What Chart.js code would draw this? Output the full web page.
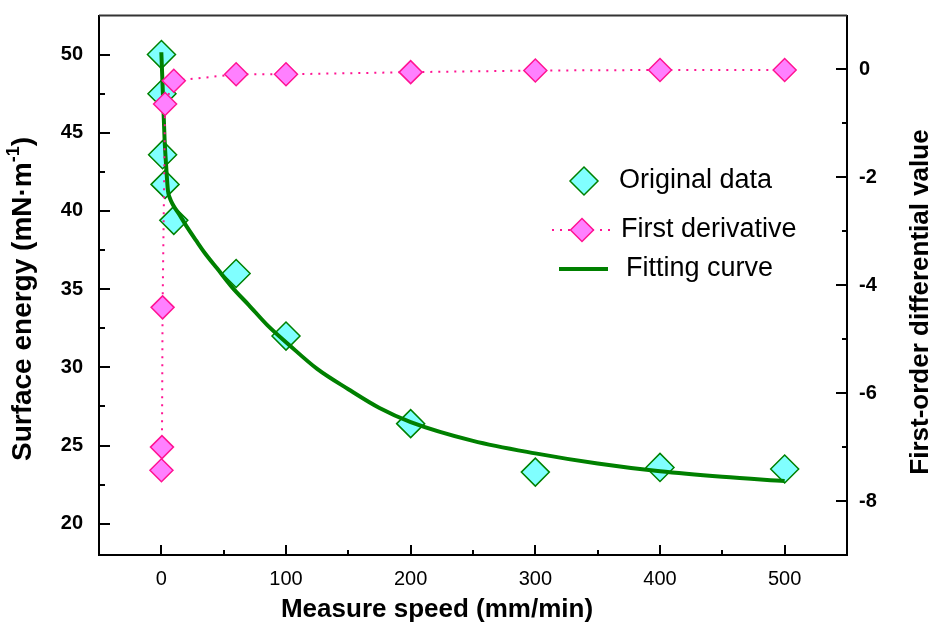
<!DOCTYPE html>
<html>
<head>
<meta charset="utf-8">
<script src="https://cdn.jsdelivr.net/npm/chart.js@4.4.0/dist/chart.umd.min.js"></script>
<style>
html,body{margin:0;padding:0;background:#fff;}
canvas{display:block;}
</style>
</head>
<body>
<canvas id="c" width="936" height="628"></canvas>
<script>
// ---- data ----
const speeds = [0.1, 0.5, 1, 3, 10, 60, 100, 200, 300, 400, 500];
const surfaceEnergy = [50.0, 47.5, 43.6, 41.7, 39.4, 36.0, 32.0, 26.4, 23.3, 23.6, 23.5];
const firstDerivative = [-7.43, -7.0, -4.41, -0.64, -0.21, -0.09, -0.09, -0.05, -0.02, -0.01, -0.01];
const fitSpeeds = [0, 1.3, 2.6, 4, 5.3, 6.7, 9.3, 15, 20, 28, 35, 45, 57, 70, 85, 103, 125, 150, 175, 200, 250, 300, 350, 400, 450, 500];
const fitEnergy = [50.15, 47.4, 44.6, 42.7, 41.3, 40.85, 40.4, 39.7, 39.05, 38.1, 37.3, 36.3, 35.1, 34.0, 32.7, 31.4, 29.9, 28.6, 27.4, 26.5, 25.3, 24.5, 23.85, 23.35, 23.0, 22.73];

const xTicks = [0, 100, 200, 300, 400, 500];
const xMinorTicks = [50, 150, 250, 350, 450];
const yTicks = [20, 25, 30, 35, 40, 45, 50];
const yMinorTicks = [22.5, 27.5, 32.5, 37.5, 42.5, 47.5];
const y2Ticks = [0, -2, -4, -6, -8];
const y2MinorTicks = [-1, -3, -5, -7];

const seriesNames = ['Original data', 'First derivative', 'Fitting curve'];
const xTitle = 'Measure speed (mm/min)';
const yTitleMain = 'Surface energy (mN\u00B7m';
const yTitleSup = '-1';
const yTitleEnd = ')';
const y2Title = 'First-order differential value';

const GREEN = '#008000';
const CYAN = '#80ffff';
const PINK_FILL = '#ff80ff';
const PINK = '#ff1493';
const FONT = '"Liberation Sans", Arial, Helvetica, sans-serif';

function pts(xs, ys) { return xs.map((x, i) => ({x: x, y: ys[i]})); }

function diamond(ctx, x, y, r, fill, stroke, lw) {
  ctx.beginPath();
  ctx.moveTo(x, y - r); ctx.lineTo(x + r, y); ctx.lineTo(x, y + r); ctx.lineTo(x - r, y); ctx.closePath();
  ctx.fillStyle = fill; ctx.fill();
  ctx.lineWidth = lw; ctx.strokeStyle = stroke; ctx.stroke();
}

const decorPlugin = {
  id: 'decor',
  afterDraw(chart) {
    const ctx = chart.ctx;
    const a = chart.chartArea;
    const sx = chart.scales.x, sy = chart.scales.y, sy2 = chart.scales.y2;
    ctx.save();
    // top frame line
    ctx.strokeStyle = '#333'; ctx.lineWidth = 2;
    ctx.beginPath(); ctx.moveTo(a.left, a.top); ctx.lineTo(a.right, a.top); ctx.stroke();
    // inward ticks
    ctx.strokeStyle = '#000'; ctx.lineWidth = 2;
    ctx.beginPath();
    xTicks.forEach(v => { const p = Math.round(sx.getPixelForValue(v)); ctx.moveTo(p, a.bottom); ctx.lineTo(p, a.bottom - 10); });
    xMinorTicks.forEach(v => { const p = Math.round(sx.getPixelForValue(v)); ctx.moveTo(p, a.bottom); ctx.lineTo(p, a.bottom - 5); });
    yTicks.forEach(v => { const p = Math.round(sy.getPixelForValue(v)); ctx.moveTo(a.left, p); ctx.lineTo(a.left + 11, p); });
    yMinorTicks.forEach(v => { const p = Math.round(sy.getPixelForValue(v)); ctx.moveTo(a.left, p); ctx.lineTo(a.left + 6, p); });
    y2Ticks.forEach(v => { const p = Math.round(sy2.getPixelForValue(v)); ctx.moveTo(a.right, p); ctx.lineTo(a.right - 11, p); });
    y2MinorTicks.forEach(v => { const p = Math.round(sy2.getPixelForValue(v)); ctx.moveTo(a.right, p); ctx.lineTo(a.right - 5, p); });
    ctx.stroke();

    // axis titles
    ctx.fillStyle = '#000';
    ctx.font = 'bold 26px ' + FONT;
    ctx.textAlign = 'center'; ctx.textBaseline = 'middle';
    ctx.fillText(xTitle, 437, 610);

    ctx.save();
    ctx.translate(921, 302); ctx.rotate(-Math.PI / 2);
    ctx.fillText(y2Title, 0, 0);
    ctx.restore();

    ctx.save();
    ctx.translate(23, 299); ctx.rotate(-Math.PI / 2);
    ctx.textAlign = 'left';
    const big = 'bold 28px ' + FONT, small = 'bold 18px ' + FONT;
    ctx.font = big;
    const w1 = ctx.measureText(yTitleMain).width;
    const w3 = ctx.measureText(yTitleEnd).width;
    ctx.font = small;
    const w2 = ctx.measureText(yTitleSup).width;
    const start = -(w1 + w2 + w3) / 2;
    ctx.font = big;
    ctx.fillText(yTitleMain, start, 0);
    ctx.font = small;
    ctx.fillText(yTitleSup, start + w1, -9);
    ctx.font = big;
    ctx.fillText(yTitleEnd, start + w1 + w2, 0);
    ctx.restore();

    // legend
    ctx.font = '27px ' + FONT;
    ctx.textAlign = 'left'; ctx.textBaseline = 'middle';
    diamond(ctx, 584, 181, 14, CYAN, GREEN, 1.5);
    ctx.fillStyle = '#000';
    ctx.fillText(seriesNames[0], 619, 181);

    ctx.save();
    ctx.strokeStyle = PINK; ctx.lineWidth = 2; ctx.setLineDash([2, 6]);
    ctx.beginPath(); ctx.moveTo(552, 230); ctx.lineTo(612, 230); ctx.stroke();
    ctx.restore();
    diamond(ctx, 582, 230, 11.5, PINK_FILL, PINK, 1.5);
    ctx.fillStyle = '#000';
    ctx.fillText(seriesNames[1], 621, 230);

    ctx.strokeStyle = GREEN; ctx.lineWidth = 4; ctx.setLineDash([]);
    ctx.beginPath(); ctx.moveTo(559, 269); ctx.lineTo(608, 269); ctx.stroke();
    ctx.fillStyle = '#000';
    ctx.fillText(seriesNames[2], 626, 269);
    ctx.restore();
  }
};

new Chart(document.getElementById('c'), {
  type: 'scatter',
  data: {
    datasets: [
      {
        label: seriesNames[1],
        data: pts(speeds, firstDerivative),
        yAxisID: 'y2',
        showLine: true,
        borderColor: PINK,
        borderWidth: 2,
        borderDash: [2, 6],
        pointStyle: 'rectRot',
        pointRadius: 11.5,
        pointBackgroundColor: PINK_FILL,
        pointBorderColor: PINK,
        pointBorderWidth: 1.5,
        order: 0
      },
      {
        label: seriesNames[2],
        data: pts(fitSpeeds, fitEnergy),
        yAxisID: 'y',
        showLine: true,
        borderColor: GREEN,
        borderWidth: 4,
        pointRadius: 0,
        cubicInterpolationMode: 'monotone',
        order: 1
      },
      {
        label: seriesNames[0],
        data: pts(speeds, surfaceEnergy),
        yAxisID: 'y',
        showLine: false,
        pointStyle: 'rectRot',
        pointRadius: 14,
        pointBackgroundColor: CYAN,
        pointBorderColor: GREEN,
        pointBorderWidth: 1.5,
        order: 2
      }
    ]
  },
  options: {
    responsive: false,
    animation: false,
    devicePixelRatio: 1,
    layout: { padding: { top: 14, left: 0, right: 0, bottom: 0 } },
    plugins: { legend: { display: false }, tooltip: { enabled: false } },
    scales: {
      x: {
        type: 'linear', min: -50, max: 550,
        afterBuildTicks: s => { s.ticks = xTicks.map(v => ({value: v})); },
        afterFit: s => { s.height = 73; s.paddingLeft = 0; s.paddingRight = 0; },
        grid: { display: false, drawTicks: false },
        border: { display: true, color: '#000', width: 2 },
        ticks: { color: '#000', font: { family: FONT, size: 20 }, padding: 12, maxRotation: 0 }
      },
      y: {
        type: 'linear', position: 'left', min: 18, max: 52.5,
        afterBuildTicks: s => { s.ticks = yTicks.map(v => ({value: v})); },
        afterFit: s => { s.width = 99; s.paddingTop = 0; s.paddingBottom = 0; },
        grid: { display: false, drawTicks: false },
        border: { display: true, color: '#000', width: 2 },
        ticks: { color: '#000', font: { family: FONT, size: 20, weight: 'bold' }, padding: 16 }
      },
      y2: {
        type: 'linear', position: 'right', min: -9, max: 1,
        afterBuildTicks: s => { s.ticks = y2Ticks.map(v => ({value: v})); },
        afterFit: s => { s.width = 89; s.paddingTop = 0; s.paddingBottom = 0; },
        grid: { display: false, drawTicks: false },
        border: { display: true, color: '#000', width: 2 },
        ticks: { color: '#000', font: { family: FONT, size: 20, weight: 'bold' }, padding: 12 }
      }
    }
  },
  plugins: [decorPlugin]
});
</script>
</body>
</html>
